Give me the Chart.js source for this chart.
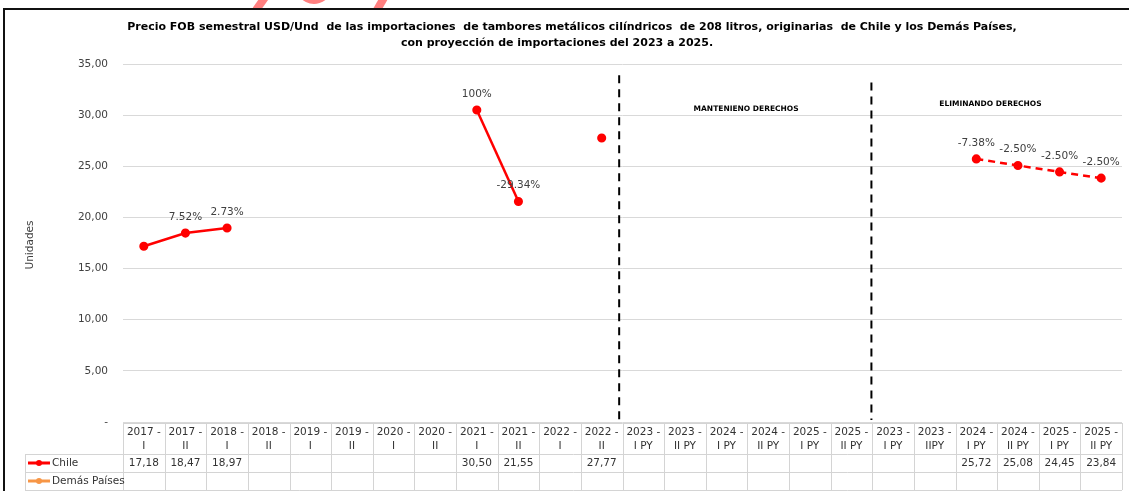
<!DOCTYPE html>
<html>
<head>
<meta charset="utf-8">
<script src="https://cdn.jsdelivr.net/npm/chart.js@4"></script>
<style>body{margin:0;background:#fff}</style>
</head>
<body>
<canvas id="myChart" width="1129" height="491"></canvas>
<script>
// datos
const categories = ['2017 - I','2017 - II','2018 - I','2018 - II','2019 - I','2019 - II','2020 - I','2020 - II',
  '2021 - I','2021 - II','2022 - I','2022 - II','2023 - I PY','2023 - II PY','2024 - I PY','2024 - II PY',
  '2025 - I PY','2025 - II PY','2023 - I PY','2023 - IIPY','2024 - I PY','2024 - II PY','2025 - I PY','2025 - II PY'];
const chile = [17.18,18.47,18.97,null,null,null,null,null,30.50,21.55,null,27.77,
  null,null,null,null,null,null,null,null,25.72,25.08,24.45,23.84];
const demas = [null,null,null,null,null,null,null,null,null,null,null,null,
  null,null,null,null,null,null,null,null,null,null,null,null];
const pctLabels = [null,'7.52%','2.73%',null,null,null,null,null,'100%','-29.34%',null,null,
  null,null,null,null,null,null,null,null,'-7.38%','-2.50%','-2.50%','-2.50%'];
const firstProjected = 20;
const titleLines = ['Precio FOB semestral USD/Und  de las importaciones  de tambores metálicos cilíndricos  de 208 litros, originarias  de Chile y los Demás Países,',
  'con proyección de importaciones del 2023 a 2025.'];

const fmt = v => v.toFixed(2).replace('.', ',');
const txt = '#404040';

const extras = {
  id: 'extras',
  beforeDraw(chart) {
    const c = chart.ctx;
    c.save();
    // marca de agua rosada arriba (solo asoma)
    c.save();
    c.beginPath(); c.rect(0, 0, 1129, 8); c.clip();
    c.strokeStyle = '#ff8080';
    c.lineWidth = 8;
    c.beginPath(); c.moveTo(256, 10); c.lineTo(266, -4); c.stroke();
    c.beginPath(); c.arc(314, -14, 14, 0.15 * Math.PI, 0.85 * Math.PI); c.stroke();
    c.beginPath(); c.moveTo(377, 10); c.lineTo(385, -4); c.stroke();
    c.restore();
    // marco
    c.strokeStyle = '#111';
    c.lineWidth = 2;
    c.strokeRect(4, 9, 1140, 500);
    // titulo
    c.fillStyle = '#000';
    c.font = 'bold 11px "DejaVu Sans"';
    c.textAlign = 'center';
    c.textBaseline = 'middle';
    c.fillText(titleLines[0], 572, 27);
    c.fillText(titleLines[1], 557, 43);
    // titulo eje y
    c.translate(30, 245);
    c.rotate(-Math.PI / 2);
    c.fillStyle = txt;
    c.font = '10.5px "DejaVu Sans"';
    c.fillText('Unidades', 0, 0);
    c.restore();
  },
  afterDatasetsDraw(chart) {
    const c = chart.ctx;
    const x = chart.scales.x, y = chart.scales.y;
    const step = x.getPixelForValue(1) - x.getPixelForValue(0);
    const bottom = chart.chartArea.bottom;
    c.save();
    // etiquetas de variacion
    const pts = chart.getDatasetMeta(0).data;
    c.font = '10.5px "DejaVu Sans"';
    c.fillStyle = txt;
    c.textAlign = 'center';
    c.textBaseline = 'middle';
    pctLabels.forEach((l, i) => {
      if (l) c.fillText(l, pts[i].x, pts[i].y - 16);
    });
    // separadores
    c.strokeStyle = '#000';
    c.lineWidth = 2;
    c.setLineDash([8, 6]);
    [[11.42, 33.9], [17.48, 33.2]].forEach(([xi, top]) => {
      const px = x.getPixelForValue(0) + xi * step;
      c.beginPath(); c.moveTo(px, y.getPixelForValue(top)); c.lineTo(px, bottom - 2); c.stroke();
    });
    c.setLineDash([]);
    c.fillStyle = '#000';
    c.font = 'bold 7.5px "DejaVu Sans"';
    c.fillText('MANTENIENO DERECHOS', x.getPixelForValue(0) + 14.47 * step, y.getPixelForValue(30.6));
    c.fillText('ELIMINANDO DERECHOS', x.getPixelForValue(0) + 20.34 * step, y.getPixelForValue(31.1));
    // tabla de datos
    const left = x.getPixelForValue(0) - step / 2;
    const right = x.getPixelForValue(categories.length - 1) + step / 2;
    const rHead = bottom + 1, rChile = bottom + 32, rDemas = bottom + 50, rEnd = bottom + 68;
    const legLeft = 25;
    c.strokeStyle = '#d4d4d4';
    c.lineWidth = 1;
    c.beginPath();
    c.moveTo(left, rHead + 0.5); c.lineTo(right, rHead + 0.5);
    [rChile, rDemas, rEnd].forEach(r => { c.moveTo(legLeft, r + 0.5); c.lineTo(right, r + 0.5); });
    c.moveTo(legLeft + 0.5, rChile); c.lineTo(legLeft + 0.5, rEnd);
    for (let i = 0; i <= categories.length; i++) {
      const px = Math.round(left + i * step) + 0.5;
      c.moveTo(px, rHead); c.lineTo(px, rEnd);
    }
    c.stroke();
    c.fillStyle = '#333';
    c.font = '10.5px "DejaVu Sans"';
    categories.forEach((cat, i) => {
      const cx = x.getPixelForValue(i);
      const parts = cat.split(' - ');
      c.fillText(parts[0] + ' -', cx, rHead + 9);
      c.fillText(parts[1], cx, rHead + 23);
      if (chile[i] !== null) c.fillText(fmt(chile[i]), cx, rChile + 9);
      if (demas[i] !== null) c.fillText(fmt(demas[i]), cx, rDemas + 9);
    });
    // leyenda
    [[chart.data.datasets[0], rChile], [chart.data.datasets[1], rDemas]].forEach(([ds, r]) => {
      const my = r + 9;
      c.strokeStyle = ds.borderColor;
      c.lineWidth = 3;
      c.beginPath(); c.moveTo(28, my); c.lineTo(50, my); c.stroke();
      c.fillStyle = ds.borderColor;
      c.beginPath(); c.arc(39, my, 3, 0, Math.PI * 2); c.fill();
      c.fillStyle = '#333';
      c.textAlign = 'left';
      c.fillText(ds.label, 52, my);
    });
    c.restore();
  }
};

const ctx = document.getElementById('myChart').getContext('2d');
const myChart = new Chart(ctx, {
  type: 'line',
  data: {
    labels: categories,
    datasets: [{
      label: 'Chile',
      data: chile,
      borderColor: '#ff0000',
      backgroundColor: '#ff0000',
      borderWidth: 2.5,
      pointRadius: 3.3,
      pointHoverRadius: 3.3,
      spanGaps: false,
      segment: {
        borderDash: s => s.p0DataIndex >= firstProjected ? [7, 5] : undefined
      }
    }, {
      label: 'Demás Países',
      data: demas,
      borderColor: '#f79646',
      backgroundColor: '#f79646',
      borderWidth: 2.5,
      pointRadius: 3
    }]
  },
  options: {
    responsive: false,
    animation: false,
    layout: { padding: { top: 64, bottom: 69, right: 7, left: 0 } },
    plugins: { legend: { display: false }, tooltip: { enabled: false } },
    scales: {
      x: { display: false, offset: true },
      y: {
        min: 0, max: 35,
        afterFit: s => { s.width = 123; },
        border: { display: false },
        grid: { color: '#d9d9d9', drawTicks: false },
        ticks: {
          stepSize: 5, padding: 15, color: txt,
          font: { family: 'DejaVu Sans', size: 10.5 },
          callback: v => v === 0 ? '-' : fmt(v)
        }
      }
    }
  },
  plugins: [extras]
});
</script>
</body>
</html>
